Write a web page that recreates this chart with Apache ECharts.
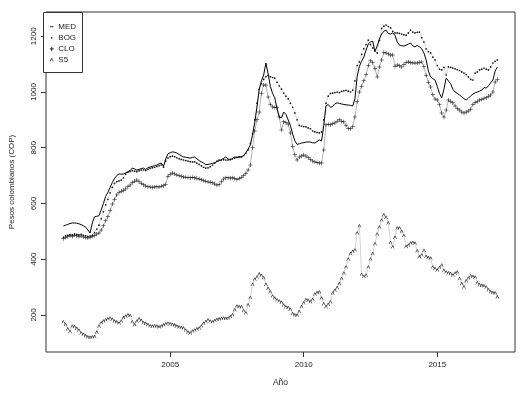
<!DOCTYPE html>
<html>
<head>
<meta charset="utf-8">
<script src="https://cdn.jsdelivr.net/npm/echarts@6/dist/echarts.min.js"></script>
<style>html,body{margin:0;padding:0;background:#fff}#c{width:521px;height:395px}</style>
</head>
<body>
<div id="c"></div>
<script>
// Monthly series, first value = January 2001
const startYear = 2001;
const seriesNames = ['MED', 'BOG', 'CLO', 'S5'];
const xTickLabels = [2005, 2010, 2015];
const yTickLabels = [200, 400, 600, 800, 1000, 1200];

const med = [
  519,522,525,528,530,530,529,527,524,520,515,505,
  494,530,552,554,556,577,600,625,640,657,675,690,
  700,706,705,706,710,714,718,727,724,720,722,725,
  727,722,728,731,733,736,738,742,745,733,760,778,
  782,785,784,781,776,771,767,766,764,763,765,767,
  760,754,749,745,739,740,742,744,746,750,753,757,
  762,767,760,756,762,767,766,767,767,772,782,795,
  810,845,890,946,1010,1040,1061,1104,1065,1020,995,979,
  940,910,907,928,920,900,880,850,825,812,814,817,
  818,820,821,820,818,817,822,828,824,880,950,955,
  945,948,958,961,959,957,955,954,953,952,950,975,
  1055,1092,1110,1125,1150,1172,1180,1182,1145,1165,1190,1208,
  1218,1222,1210,1208,1212,1203,1180,1168,1166,1165,1168,1172,
  1176,1165,1162,1167,1162,1155,1140,1115,1075,1054,1048,1043,
  1020,995,979,1010,1050,1040,1030,1010,1000,995,989,983,
  976,971,978,986,992,997,1000,1003,1007,1016,1014,1022,
  1033,1043,1075,1090
];
const bog = [
  478,484,486,488,487,490,489,487,489,486,484,482,
  483,486,495,508,522,545,570,595,615,638,658,672,
  678,681,684,692,705,712,715,718,716,714,717,720,
  720,718,722,726,728,730,733,735,738,730,752,763,
  768,770,768,764,760,758,756,754,752,750,749,749,
  745,740,735,730,727,728,732,738,745,752,756,756,
  757,756,756,758,760,763,765,767,767,772,780,792,
  815,850,900,960,1010,1030,1045,1055,1060,1055,1052,1050,
  1035,1022,1010,996,985,975,960,945,925,900,880,878,
  876,875,871,868,860,857,855,853,857,900,960,985,
  995,996,998,1000,998,1002,1004,1006,1003,1000,1007,1040,
  1095,1108,1135,1155,1170,1186,1170,1158,1148,1140,1185,1228,
  1236,1240,1235,1230,1218,1212,1212,1210,1208,1205,1204,1212,
  1222,1215,1212,1214,1215,1195,1179,1155,1145,1140,1125,1115,
  1095,1082,1079,1088,1061,1090,1088,1086,1083,1080,1077,1072,
  1068,1062,1054,1045,1043,1068,1072,1079,1082,1086,1082,1079,
  1090,1104,1110,1115
];
const clo = [
  474,478,481,484,482,486,484,481,483,480,478,476,
  478,482,485,490,494,505,520,538,552,575,598,615,
  630,640,644,647,652,660,666,675,680,684,678,672,
  667,663,660,659,658,659,660,659,662,664,668,698,
  705,709,706,702,700,698,695,694,693,692,694,692,
  690,688,685,682,680,677,676,674,670,666,668,678,
  688,692,692,691,692,690,686,690,694,700,708,720,
  738,800,860,900,928,995,1025,1025,982,955,946,944,
  943,910,864,893,890,885,853,805,775,756,767,770,
  774,770,764,758,752,749,747,745,745,792,882,884,
  882,886,889,895,900,895,893,880,868,868,875,910,
  965,1000,1020,1040,1062,1095,1112,1105,1085,1054,1090,1115,
  1142,1140,1136,1133,1133,1092,1097,1094,1090,1098,1106,1108,
  1105,1104,1104,1104,1106,1108,1092,1060,1035,1018,990,975,
  971,955,925,910,935,971,966,961,950,940,935,928,
  925,928,932,938,955,962,966,971,974,977,979,985,
  989,1000,1036,1045
];
const s5 = [
  175,165,150,140,160,158,152,145,135,130,125,121,
  120,121,122,138,160,172,178,182,186,189,184,178,
  175,171,178,190,196,200,198,175,164,178,186,180,
  172,170,165,161,160,161,160,157,160,164,168,171,
  168,166,164,160,157,155,153,145,138,135,142,146,
  150,153,160,170,176,182,178,175,180,184,186,188,
  189,188,189,194,200,218,232,230,229,215,207,236,
  262,310,328,336,347,342,333,310,295,283,268,260,
  254,250,245,235,229,227,220,205,200,199,212,230,
  243,255,252,247,256,275,280,283,260,240,229,238,
  247,278,288,298,312,330,350,372,400,420,428,433,
  494,520,345,338,343,372,400,420,455,490,515,540,
  559,550,530,460,444,478,512,512,500,485,445,450,
  458,460,458,430,408,415,432,410,406,404,372,366,
  361,370,379,360,354,351,348,343,350,354,330,312,
  300,322,332,340,338,336,315,308,306,304,300,290,
  283,280,279,265
];

function pairs(arr) { return arr.map((v, i) => [startYear + i / 12, v]); }

const FONT = '"Liberation Sans", Arial, sans-serif';
const TXT = '#222';
const PLUS = 'path://M4.4,0h1.2v4.4h4.4v1.2h-4.4v4.4h-1.2v-4.4h-4.4v-1.2h4.4z';
const CARET = 'path://M0,10L4.3,0h1.4L10,10h-1.6L5,2.4L1.6,10z';

// Legend drawn in R style (box, symbol, name)
const legendX = 43, legendY = 12, legendW = 40, legendH = 61, legendPitch = 11.1, legendFirst = 26.7;
const legendGraphics = [
  {type: 'rect', shape: {x: legendX + 0.5, y: legendY + 0.5, width: legendW - 1, height: legendH - 1},
   style: {fill: '#fff', stroke: '#333', lineWidth: 1}, z: 100},
  {type: 'rect', shape: {x: 50, y: legendFirst - 0.5, width: 3.4, height: 1}, style: {fill: '#222'}, z: 101},
  {type: 'circle', shape: {cx: 51.7, cy: legendFirst + legendPitch, r: 0.9}, style: {fill: '#222'}, z: 101},
  {type: 'rect', shape: {x: 49.7, y: legendFirst + 2 * legendPitch - 0.5, width: 4, height: 1}, style: {fill: '#222'}, z: 101},
  {type: 'rect', shape: {x: 51.2, y: legendFirst + 2 * legendPitch - 2, width: 1, height: 4}, style: {fill: '#222'}, z: 101},
  {type: 'polyline', shape: {points: [[50.2, legendFirst + 3 * legendPitch + 1.3], [51.7, legendFirst + 3 * legendPitch - 1.6], [53.2, legendFirst + 3 * legendPitch + 1.3]]},
   style: {stroke: '#222', lineWidth: 0.8, fill: null}, z: 101}
];
seriesNames.forEach((n, k) => {
  legendGraphics.push({type: 'text', x: 58.3, y: legendFirst + k * legendPitch, z: 101,
    style: {text: n, fontSize: 8, fontFamily: FONT, fill: TXT, verticalAlign: 'middle', align: 'left'}});
});

const chart = echarts.init(document.getElementById('c'), null, {renderer: 'canvas'});
chart.setOption({
  animation: false,
  backgroundColor: '#fff',
  grid: {left: 42, right: 6, top: 12, bottom: 43, show: true, borderColor: '#333', borderWidth: 1},
  xAxis: {
    type: 'value', min: 2000.35, max: 2017.91,
    axisLine: {show: false, onZero: false},
    axisTick: {show: true, customValues: xTickLabels, length: 5, lineStyle: {color: '#333'}},
    axisLabel: {customValues: xTickLabels, formatter: v => String(v), fontSize: 8, color: TXT, fontFamily: FONT, margin: 9},
    splitLine: {show: false},
    name: 'Año', nameLocation: 'middle', nameGap: 26,
    nameTextStyle: {fontSize: 8.5, color: TXT, fontFamily: FONT}
  },
  yAxis: {
    type: 'value', min: 67, max: 1287,
    axisLine: {show: false, onZero: false},
    axisTick: {show: true, customValues: yTickLabels, length: 5, lineStyle: {color: '#333'}},
    axisLabel: {customValues: yTickLabels, formatter: v => String(v), fontSize: 8, color: TXT, fontFamily: FONT, rotate: 90, margin: 8},
    splitLine: {show: false},
    name: 'Pesos colombianos (COP)', nameLocation: 'middle', nameGap: 30, nameRotate: 90,
    nameTextStyle: {fontSize: 8, color: TXT, fontFamily: FONT}
  },
  graphic: legendGraphics,
  series: [
    {name: seriesNames[0], type: 'line', data: pairs(med), symbol: 'none', color: '#000',
     lineStyle: {width: 1, color: '#000'}, silent: true},
    {name: seriesNames[1], type: 'line', data: pairs(bog), symbol: 'circle', symbolSize: 1.7, showAllSymbol: true,
     color: '#000', itemStyle: {color: '#111'}, lineStyle: {width: 0.5, color: '#000', opacity: 0.3}, silent: true},
    {name: seriesNames[2], type: 'line', data: pairs(clo), symbol: PLUS, symbolSize: 4.2, showAllSymbol: true,
     color: '#000', itemStyle: {color: '#111'}, lineStyle: {width: 0.6, color: '#000', opacity: 0.5}, silent: true},
    {name: seriesNames[3], type: 'line', data: pairs(s5), symbol: CARET, symbolSize: [3.8, 3.2], showAllSymbol: true,
     color: '#000', itemStyle: {color: '#222'}, lineStyle: {width: 0.5, color: '#000', opacity: 0.35}, silent: true}
  ]
});
</script>
</body>
</html>
